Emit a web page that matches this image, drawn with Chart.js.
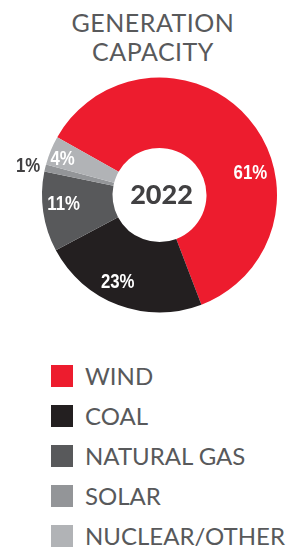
<!DOCTYPE html>
<html>
<head>
<meta charset="utf-8">
<script src="https://cdn.jsdelivr.net/npm/chart.js@4"></script>
<style>
  body { margin: 0; background: #fff; width: 306px; height: 548px; position: relative; overflow: hidden; font-family: Lato, "Open Sans", sans-serif; }
  #title { position: absolute; left: 0; top: 8px; width: 306px; text-align: center; color: #58595b; font-size: 25px; line-height: 29px; font-weight: 400; letter-spacing: 0.5px; }
  #wrap { position: absolute; left: 0; top: 57px; width: 306px; height: 276px; }
  #legend { position: absolute; left: 51px; top: 365px; }
  .item { height: 40px; position: relative; }
  .box { position: absolute; left: 0; top: 0; width: 22px; height: 22px; }
  .lab { position: absolute; left: 34px; top: -3px; color: #58595b; font-size: 24px; line-height: 28px; white-space: nowrap; }
</style>
</head>
<body>
<div id="title">GENERATION<br>CAPACITY</div>
<div id="wrap"><canvas id="pie"></canvas></div>
<div id="legend"></div>
<script>
let categories = ['WIND', 'COAL', 'NATURAL GAS', 'SOLAR', 'NUCLEAR/OTHER'];
let shares = [61, 23, 11, 1, 4];
let sliceCol = ['#ed1c2e', '#231f20', '#58595b', '#939598', '#b1b3b6'];
let year = '2022';

// label placement tweaks per slice (angle shift in degrees, radius factor)
let labelShift = [27, 5, 3, -1, -2];
let labelRad = [0.66, 0.71, 0.7, 1.15, 0.8];

let legend = document.getElementById('legend');
categories.forEach(function (c, i) {
  let d = document.createElement('div');
  d.className = 'item';
  d.innerHTML = '<div class="box" style="background:' + sliceCol[i] + '"></div><div class="lab">' + c + '</div>';
  legend.appendChild(d);
});

let sliceLabels = {
  id: 'sliceLabels',
  afterDatasetsDraw(chart) {
    let ctx = chart.ctx;
    let meta = chart.getDatasetMeta(0);
    ctx.save();
    ctx.textAlign = 'center';
    ctx.textBaseline = 'middle';
    meta.data.forEach(function (arc, i) {
      let p = arc.getProps(['x', 'y', 'startAngle', 'endAngle', 'innerRadius', 'outerRadius']);
      let a = (p.startAngle + p.endAngle) / 2 + labelShift[i] * Math.PI / 180;
      let r = p.innerRadius + (p.outerRadius - p.innerRadius) * labelRad[i];
      if (labelRad[i] > 1) r = p.outerRadius + 17;
      let x = p.x + Math.cos(a) * r;
      let y = p.y + Math.sin(a) * r;
      ctx.save();
      ctx.translate(x, y);
      ctx.scale(0.8, 1);
      ctx.fillStyle = labelRad[i] > 1 ? '#414042' : '#ffffff';
      ctx.font = 'bold 21px "Liberation Sans", Arial, sans-serif';
      ctx.fillText(shares[i] + '%', 0, 0);
      ctx.restore();
    });
    let c = meta.data[0];
    ctx.fillStyle = '#414042';
    ctx.font = '900 27px Lato, "Open Sans", sans-serif';
    ctx.fillText(year, c.x + 2, c.y);
    ctx.restore();
  }
};

new Chart(document.getElementById('pie').getContext('2d'), {
  type: 'doughnut',
  data: {
    labels: categories,
    datasets: [{
      data: shares,
      backgroundColor: sliceCol,
      borderWidth: 0
    }]
  },
  options: {
    responsive: true,
    maintainAspectRatio: false,
    animation: false,
    cutout: '40%',
    rotation: -60.5,
    layout: { padding: { left: 42, right: 29, top: 20, bottom: 20 } },
    plugins: {
      legend: { display: false },
      tooltip: { enabled: false }
    }
  },
  plugins: [sliceLabels]
});
</script>
</body>
</html>
